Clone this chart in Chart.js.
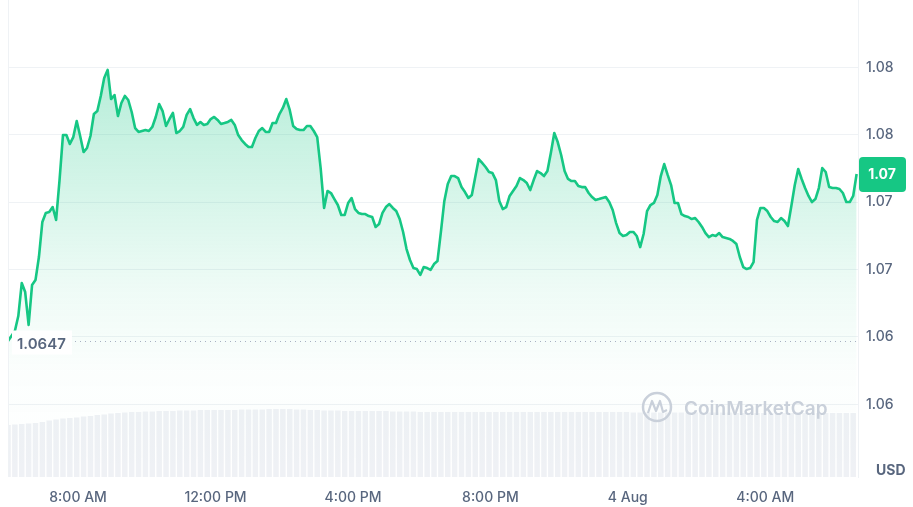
<!DOCTYPE html>
<html lang="en">
<head>
    <meta charset="UTF-8">
    <title>Price chart</title>
    <script src="https://cdn.jsdelivr.net/npm/chart.js"></script>
    <style>
        html, body { margin: 0; padding: 0; background: #fff; }
        .wrap { width: 913px; height: 507px; position: relative; }
    </style>
</head>
<body>
    <div class="wrap"><canvas id="price-chart"></canvas></div>

    <script>
        // time axis: hours since midnight 3 Aug, one price every 6 minutes
        const startHour = 5.96;
        const stepHours = 0.1;
        const volumeStepHours = 0.2;

        const tickHours = [8, 12, 16, 20, 24, 28];
        const tickLabels = ['8:00 AM', '12:00 PM', '4:00 PM', '8:00 PM', '4 Aug', '4:00 AM'];
        const priceTicks = [1.060, 1.065, 1.070, 1.075, 1.080, 1.085];

        const openPrice = 1.0647;
        const lastPriceLabel = '1.07';

        const prices = [
            1.06470, 1.06507, 1.06544, 1.06655, 1.06900, 1.06833, 1.06589, 1.06885, 1.06922, 1.07093,
            1.07353, 1.07420, 1.07427, 1.07464, 1.07368, 1.07664, 1.07998, 1.07998, 1.07932, 1.07983,
            1.08102, 1.07991, 1.07872, 1.07902, 1.07991, 1.08154, 1.08176, 1.08288, 1.08421, 1.08481,
            1.08265, 1.08295, 1.08139, 1.08236, 1.08288, 1.08258, 1.08169, 1.08050, 1.08021, 1.08028,
            1.08035, 1.08028, 1.08058, 1.08132, 1.08228, 1.08176, 1.08065, 1.08117, 1.08162, 1.08013,
            1.08028, 1.08058, 1.08147, 1.08191, 1.08124, 1.08073, 1.08095, 1.08073, 1.08080, 1.08117,
            1.08132, 1.08110, 1.08080, 1.08087, 1.08095, 1.08110, 1.08073, 1.07998, 1.07961, 1.07932,
            1.07909, 1.07909, 1.07976, 1.08028, 1.08050, 1.08021, 1.08021, 1.08087, 1.08087, 1.08154,
            1.08199, 1.08265, 1.08184, 1.08065, 1.08043, 1.08035, 1.08035, 1.08065, 1.08065, 1.08028,
            1.07983, 1.07753, 1.07457, 1.07583, 1.07568, 1.07523, 1.07479, 1.07405, 1.07405, 1.07494,
            1.07531, 1.07449, 1.07420, 1.07412, 1.07412, 1.07397, 1.07390, 1.07316, 1.07338, 1.07420,
            1.07464, 1.07486, 1.07457, 1.07434, 1.07375, 1.07279, 1.07152, 1.07071, 1.07011, 1.07004,
            1.06960, 1.07019, 1.07011, 1.06997, 1.07041, 1.07063, 1.07279, 1.07509, 1.07635, 1.07694,
            1.07694, 1.07679, 1.07612, 1.07575, 1.07531, 1.07553, 1.07687, 1.07820, 1.07791, 1.07761,
            1.07724, 1.07716, 1.07664, 1.07509, 1.07449, 1.07464, 1.07546, 1.07583, 1.07620, 1.07679,
            1.07664, 1.07642, 1.07590, 1.07664, 1.07731, 1.07716, 1.07694, 1.07731, 1.07865, 1.08013,
            1.07946, 1.07850, 1.07731, 1.07672, 1.07657, 1.07657, 1.07620, 1.07612, 1.07612, 1.07568,
            1.07538, 1.07516, 1.07523, 1.07531, 1.07538, 1.07501, 1.07442, 1.07345, 1.07271, 1.07249,
            1.07256, 1.07279, 1.07279, 1.07249, 1.07167, 1.07264, 1.07434, 1.07479, 1.07494, 1.07553,
            1.07694, 1.07783, 1.07702, 1.07627, 1.07494, 1.07494, 1.07412, 1.07397, 1.07390, 1.07375,
            1.07382, 1.07353, 1.07316, 1.07271, 1.07241, 1.07256, 1.07249, 1.07271, 1.07241, 1.07234,
            1.07227, 1.07212, 1.07190, 1.07093, 1.07019, 1.07004, 1.07011, 1.07056, 1.07368, 1.07457,
            1.07457, 1.07434, 1.07390, 1.07360, 1.07353, 1.07382, 1.07360, 1.07323, 1.07471, 1.07627,
            1.07746, 1.07672, 1.07605, 1.07546, 1.07501, 1.07523, 1.07605, 1.07753, 1.07724, 1.07612,
            1.07605, 1.07605, 1.07598, 1.07568, 1.07501, 1.07501, 1.07546, 1.07709
        ];

        // volume, one bar every 12 minutes (millions)
        const volumes = [
            88.4, 89.3, 90.1, 91.0, 91.8, 93.5, 96.1, 97.8, 99.5, 100.3,
            101.2, 102.9, 103.7, 105.4, 106.3, 108.0, 108.8, 109.7, 110.5, 110.5,
            111.4, 111.4, 112.2, 112.2, 112.2, 113.1, 113.1, 113.1, 113.9, 113.9,
            113.9, 113.9, 113.9, 113.9, 114.8, 114.8, 114.8, 114.8, 115.6, 115.6,
            115.6, 115.6, 114.8, 114.8, 113.9, 113.9, 113.1, 113.1, 113.1, 112.2,
            112.2, 112.2, 112.2, 112.2, 112.2, 112.2, 111.4, 111.4, 111.4, 111.4,
            110.5, 110.5, 110.5, 110.5, 110.5, 110.5, 110.5, 110.5, 110.5, 110.5,
            110.5, 110.5, 110.5, 110.5, 110.5, 110.5, 110.5, 110.5, 110.5, 110.5,
            110.5, 110.5, 110.5, 110.5, 110.5, 110.5, 110.5, 110.5, 110.5, 110.5,
            110.5, 109.7, 109.7, 109.7, 109.7, 109.7, 109.7, 109.7, 109.7, 109.7,
            109.7, 109.7, 109.7, 109.7, 109.7, 109.7, 108.8, 108.8, 108.8, 108.8,
            108.8, 108.8, 108.8, 108.8, 108.8, 108.8, 108.8, 108.8, 108.8, 108.8,
            108.8, 108.8, 108.8, 108.8
        ];

        const green = '#16c784';
        const labelGrey = '#58667e';
        const gridGrey = '#eff2f5';

        const priceData = prices.map((p, i) => ({ x: startHour + i * stepHours, y: p }));
        const volumeData = volumes.map((v, i) => ({ x: startHour + i * volumeStepHours, y: v }));

        // extra marks: left border, open price line, last price badge, unit, watermark
        const decorations = {
            id: 'decorations',
            afterDatasetsDraw(chart) {
                const { ctx, chartArea, scales } = chart;
                ctx.save();

                ctx.strokeStyle = gridGrey;
                ctx.lineWidth = 1;
                ctx.beginPath();
                ctx.moveTo(chartArea.left + 0.5, 0);
                ctx.lineTo(chartArea.left + 0.5, chartArea.bottom);
                ctx.stroke();

                // open price dotted line + label
                const yOpen = Math.round(scales.y.getPixelForValue(openPrice)) + 0.5;
                ctx.strokeStyle = '#a7b1c2';
                ctx.setLineDash([1, 4]);
                ctx.beginPath();
                ctx.moveTo(75, yOpen);
                ctx.lineTo(chartArea.right, yOpen);
                ctx.stroke();
                ctx.setLineDash([]);

                ctx.fillStyle = '#fff';
                ctx.fillRect(chartArea.left + 4, yOpen - 11, 60, 24);
                ctx.fillStyle = labelGrey;
                ctx.font = '600 15px Inter';
                ctx.textAlign = 'left';
                ctx.textBaseline = 'middle';
                ctx.fillText(openPrice.toFixed(4), chartArea.left + 9, yOpen + 3);

                // last price badge
                const yLast = scales.y.getPixelForValue(prices[prices.length - 1]);
                const bx = chartArea.right + 1;
                ctx.fillStyle = green;
                ctx.beginPath();
                ctx.roundRect(bx, yLast - 17, 47, 35, 4);
                ctx.fill();
                ctx.fillStyle = '#fff';
                ctx.font = '700 14px Inter';
                ctx.textAlign = 'center';
                ctx.fillText(lastPriceLabel, bx + 23, yLast + 1);

                // unit
                ctx.fillStyle = labelGrey;
                ctx.font = '700 14px Inter';
                ctx.textAlign = 'left';
                ctx.fillText('USD', 876, 471);

                // watermark
                ctx.strokeStyle = '#c9d0da';
                ctx.lineWidth = 2.5;
                ctx.beginPath();
                ctx.arc(657, 407, 14, 0, Math.PI * 2);
                ctx.stroke();
                ctx.lineWidth = 2.2;
                ctx.lineJoin = 'round';
                ctx.beginPath();
                ctx.moveTo(648, 413);
                ctx.lineTo(652, 401);
                ctx.lineTo(656, 411);
                ctx.lineTo(660, 401);
                ctx.lineTo(663, 412);
                ctx.lineTo(667, 410);
                ctx.stroke();
                ctx.fillStyle = '#c9d0da';
                ctx.font = '600 19px Inter';
                ctx.textAlign = 'left';
                ctx.fillText('CoinMarketCap', 684, 409);

                ctx.restore();
            }
        };

        new Chart(document.getElementById('price-chart'), {
            data: {
                datasets: [
                    {
                        type: 'line',
                        data: priceData,
                        borderColor: green,
                        borderWidth: 2.6,
                        borderJoinStyle: 'round',
                        pointRadius: 0,
                        tension: 0,
                        fill: 'start',
                        order: 0,
                        backgroundColor(context) {
                            const area = context.chart.chartArea;
                            if (!area) return 'rgba(22,199,132,0.1)';
                            const g = context.chart.ctx.createLinearGradient(0, area.top + 60, 0, area.bottom);
                            g.addColorStop(0, 'rgba(22,199,132,0.32)');
                            g.addColorStop(0.55, 'rgba(22,199,132,0.07)');
                            g.addColorStop(0.75, 'rgba(22,199,132,0.015)');
                            g.addColorStop(1, 'rgba(22,199,132,0)');
                            return g;
                        }
                    },
                    {
                        type: 'bar',
                        data: volumeData,
                        yAxisID: 'yv',
                        backgroundColor: '#eff1f5',
                        barPercentage: 0.8,
                        categoryPercentage: 1,
                        order: 1
                    }
                ]
            },
            options: {
                responsive: true,
                maintainAspectRatio: false,
                animation: false,
                layout: { padding: { left: 8, top: 0, right: 0, bottom: 0 } },
                plugins: { legend: { display: false }, tooltip: { enabled: false } },
                scales: {
                    x: {
                        type: 'linear',
                        offset: false,
                        min: startHour,
                        max: 30.70,
                        grid: { display: false, drawTicks: false },
                        border: { display: false },
                        afterBuildTicks(axis) { axis.ticks = tickHours.map(v => ({ value: v })); },
                        afterFit(axis) {
                            axis.height = 30;
                            axis.paddingLeft = 0;
                            axis.paddingRight = 0;
                        },
                        ticks: {
                            padding: 12,
                            maxRotation: 0,
                            autoSkip: false,
                            color: labelGrey,
                            font: { family: 'Inter', size: 14, weight: '500' },
                            callback: (v, i) => tickLabels[i]
                        }
                    },
                    y: {
                        position: 'right',
                        min: 1.05461,
                        max: 1.09,
                        grid: { color: gridGrey, drawTicks: false },
                        border: { display: true, color: gridGrey },
                        afterBuildTicks(axis) { axis.ticks = priceTicks.map(v => ({ value: v })); },
                        afterFit(axis) {
                            axis.width = 55;
                            axis.paddingTop = 0;
                            axis.paddingBottom = 0;
                        },
                        ticks: {
                            padding: 8,
                            color: labelGrey,
                            font: { family: 'Inter', size: 14, weight: '500' },
                            callback: v => (Math.floor(v * 100 + 1e-6) / 100).toFixed(2)
                        }
                    },
                    yv: {
                        display: false,
                        min: 0,
                        max: 811
                    }
                }
            },
            plugins: [decorations]
        });
    </script>
</body>
</html>
